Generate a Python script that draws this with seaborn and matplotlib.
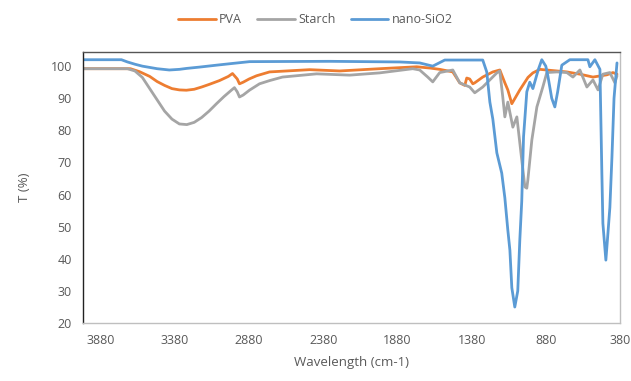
import matplotlib
matplotlib.use('Agg')
import matplotlib.pyplot as plt
import pandas as pd
import seaborn as sns

# FTIR spectra (wavenumber cm-1, transmittance %)
pva_wn = [4000, 3680, 3620, 3550, 3500, 3450, 3400, 3350, 3303, 3250, 3200, 3150,
          3080, 3020, 2992, 2960, 2945, 2920, 2880, 2830, 2742,
          2472, 2270, 2000, 1750, 1660, 1595, 1507, 1460, 1426, 1413, 1393, 1372,
          1359, 1305, 1237, 1190, 1156, 1136, 1109, 1075, 1055, 1000, 967, 920, 738,
          650, 562, 468, 427, 400]
pva_t = [99.2, 99.2, 98.3, 96.8, 95.2, 94, 93, 92.6, 92.5, 92.8, 93.5, 94.3,
         95.5, 96.8, 97.7, 96, 94.5, 95, 96, 97, 98.2,
         98.9, 98.5, 99.2, 99.8, 99.4, 99, 98.2, 94.8, 94, 96.3, 96, 94.5,
         94.8, 96.6, 98.2, 98.8, 94.8, 92.6, 88.3, 91, 92.6, 96.5, 97.9, 99, 98.2,
         97.5, 96.6, 97.3, 98, 97.5]

starch_wn = [4000, 3700, 3650, 3600, 3550, 3500, 3450, 3400, 3350, 3300, 3250, 3200,
             3150, 3100, 3050, 3000, 2979, 2960, 2945, 2920, 2878, 2810, 2742,
             2655, 2425, 2202, 2000, 1777, 1730, 1676, 1642, 1595, 1507, 1460, 1393,
             1359, 1305, 1210, 1190, 1170, 1156, 1136, 1102, 1075, 1042, 1021, 1008,
             1001, 974, 940, 900, 873, 805, 738, 697, 650, 603, 562, 528, 495, 448,
             414, 400]
starch_t = [99.2, 99.2, 98.5, 96.5, 93, 89.5, 86, 83.5, 82, 81.8, 82.5, 84,
            86, 88.3, 90.5, 92.5, 93.3, 92, 90.4, 91, 92.5, 94.5, 95.5,
            96.6, 97.6, 97.2, 97.9, 99.2, 98.8, 96.6, 95.1, 98, 98.8, 94.8, 93.5,
            91.7, 93.5, 97.9, 98.5, 90.4, 84.2, 88.8, 81, 84.2, 70.8, 62.4, 62,
            64.5, 77, 87.3, 93.5, 98, 98.2, 98, 96.6, 98.8, 93.5, 95.7, 92.6, 97.5, 98,
            94.8, 97]

sio2_wn = [4000, 3741, 3700, 3650, 3600, 3500, 3418, 3350, 3300, 3215, 3100, 3000,
           2877, 2337, 1865, 1730, 1642, 1561, 1325,
           1305, 1278, 1257, 1237, 1210, 1177, 1156, 1136, 1122, 1109, 1089, 1069,
           1055, 1042, 1030, 1008, 988, 967, 930, 907, 880, 866, 840, 819, 800, 772,
           718, 596, 583, 549, 515, 502, 495, 475, 461, 448, 434, 420, 400]
sio2_t = [102, 102, 101.3, 100.6, 100, 99.2, 98.8, 99, 99.3, 99.7, 100.3, 100.8,
          101.4, 101.5, 101.3, 101, 100, 101.9, 101.9,
          101.9, 98.2, 88.8, 83.5, 73, 66.7, 59, 49, 42.7, 31, 25, 30,
          46, 58, 78, 92, 95, 93, 99, 102, 100, 97, 90, 87.3, 92, 100.3,
          102, 102, 99.8, 102, 99, 66.7, 51, 39.6, 48, 56, 71.7, 90, 101]

x_ticks = [3880, 3380, 2880, 2380, 1880, 1380, 880, 380]
y_ticks = [20, 30, 40, 50, 60, 70, 80, 90, 100]

series = [('PVA', pva_wn, pva_t, '#ED7D31'),
          ('Starch', starch_wn, starch_t, '#A5A5A5'),
          ('nano-SiO2', sio2_wn, sio2_t, '#5B9BD5')]

sns.set_style('white')
plt.rcParams['font.family'] = ['Open Sans', 'DejaVu Sans']

fig = plt.figure(figsize=(6.31, 3.81), dpi=100)
ax = fig.add_axes([0.1315, 0.152, 0.851, 0.7115])

for name, wn, t, color in series:
    df = pd.DataFrame({'wn': wn, 'T': t})
    sns.lineplot(data=df, x='wn', y='T', ax=ax, color=color, linewidth=2,
                 sort=False, label=name)

ax.set_xlim(4000, 380)
ax.set_ylim(20, 104.4)
ax.set_xticks(x_ticks)
ax.set_yticks(y_ticks)
ax.tick_params(axis='both', length=0, labelsize=9, labelcolor='#595959', pad=8)
ax.set_xlabel('Wavelength (cm-1)', fontsize=9.5, color='#595959', labelpad=6)
ax.set_ylabel('T (%)', fontsize=9.5, color='#595959', labelpad=14)

ax.spines['left'].set_color('#222222')
ax.spines['top'].set_color('#555555')
ax.spines['right'].set_color('#BFBFBF')
ax.spines['bottom'].set_color('#BFBFBF')
for s in ax.spines.values():
    s.set_linewidth(1)

ax.legend(loc='upper center', bbox_to_anchor=(0.5, 0.995), bbox_transform=fig.transFigure,
          ncol=3, frameon=False, fontsize=9, handlelength=3, handletextpad=0.3,
          columnspacing=1.2, labelcolor='#595959')

fig.savefig('out.png', dpi=100)
